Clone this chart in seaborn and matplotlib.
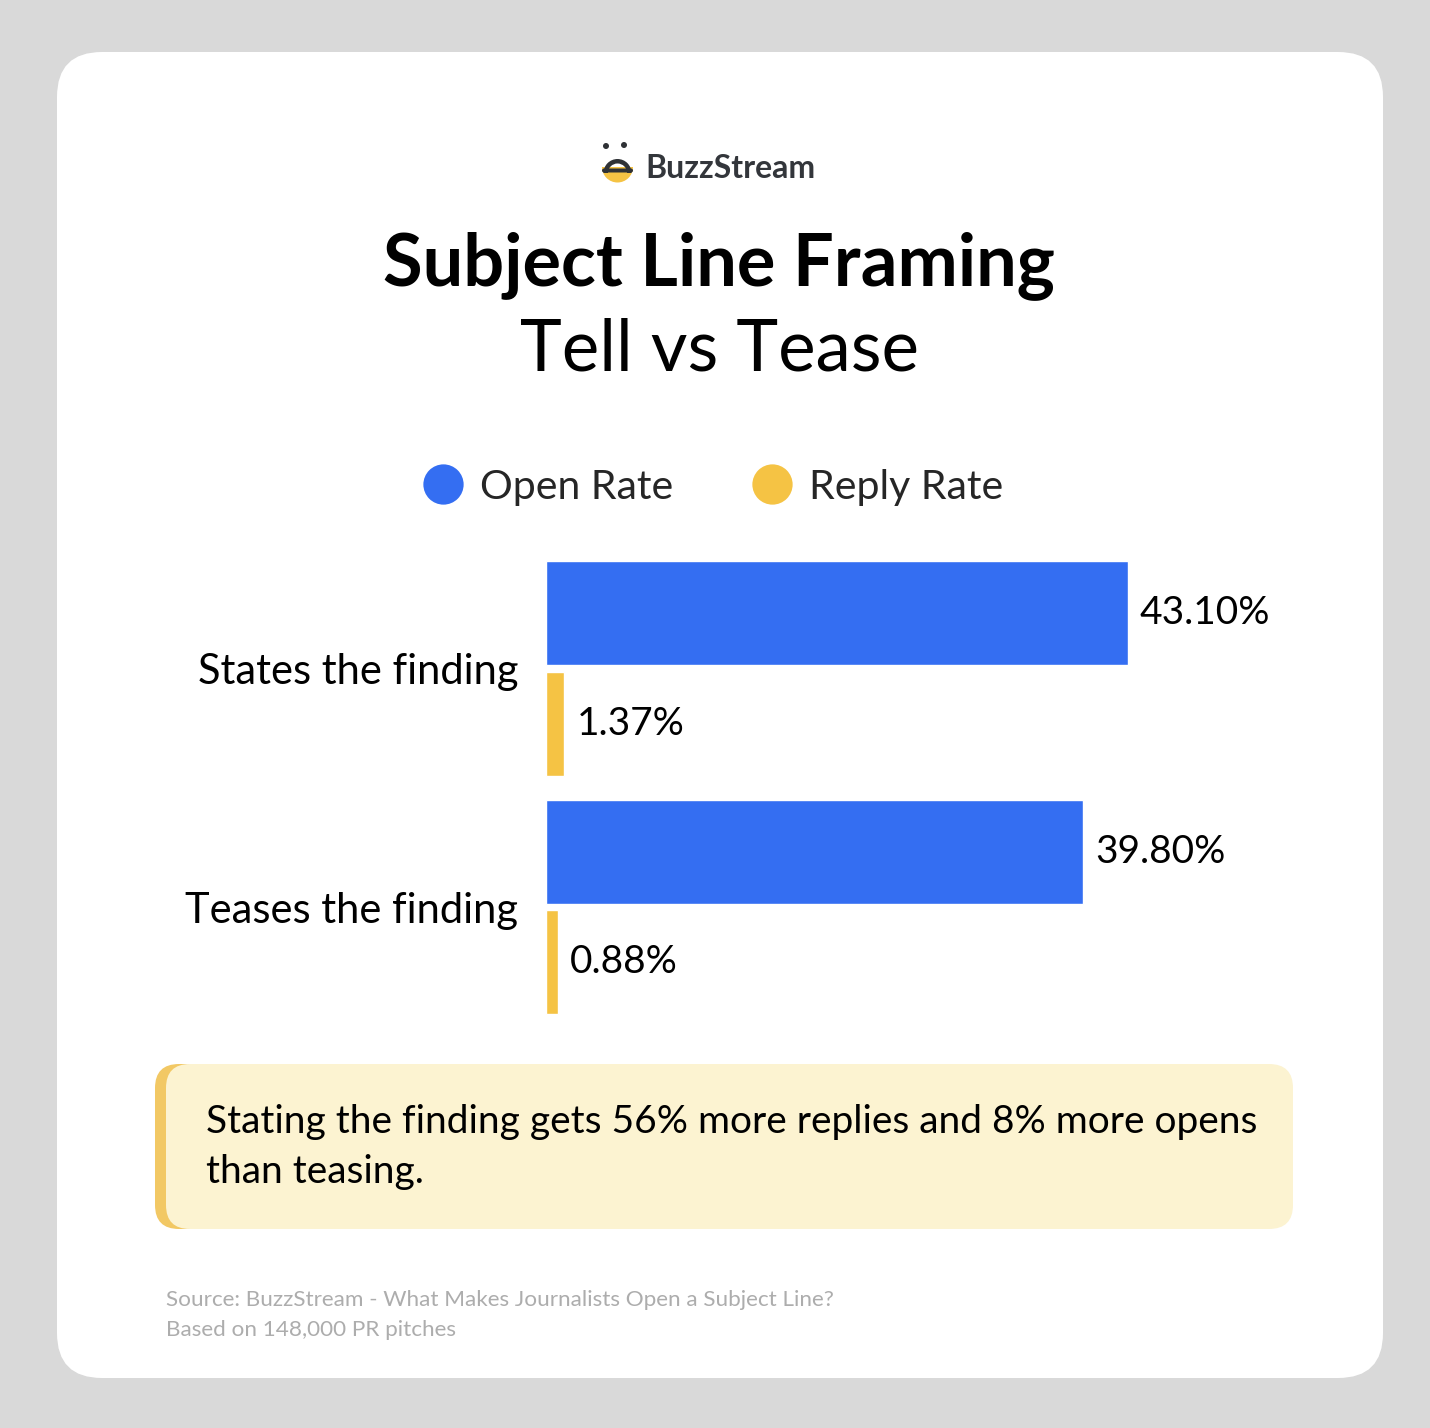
import matplotlib
matplotlib.use("Agg")
import matplotlib.pyplot as plt
import seaborn as sns
import pandas as pd
from matplotlib.patches import FancyBboxPatch, Circle, Wedge
from matplotlib.lines import Line2D

# data
categories = ["States the finding", "Teases the finding"]
open_rate = [43.10, 39.80]
reply_rate = [1.37, 0.88]
series = ["Open Rate", "Reply Rate"]
colors = ["#346EF2", "#F5C344"]

W, H = 1430, 1428
sns.set_theme(style="white")
plt.rcParams["font.family"] = ["Lato", "DejaVu Sans"]

fig = plt.figure(figsize=(W / 100, H / 100), dpi=100)
fig.patch.set_facecolor("#D9D9D9")

# background canvas in pixel coords
bg = fig.add_axes([0, 0, 1, 1])
bg.set_xlim(0, W)
bg.set_ylim(H, 0)
bg.axis("off")
bg.add_patch(FancyBboxPatch((57, 52), 1326, 1326, boxstyle="round,pad=0,rounding_size=45",
                            fc="white", ec="none"))

# logo
dark = "#2F3236"
bg.add_patch(Wedge((617.5, 167), 15.5, 0, 180, fc="#F5C344", ec="none"))
bg.add_patch(FancyBboxPatch((602, 168.5), 31, 4, boxstyle="round,pad=0,rounding_size=2",
                            fc=dark, ec="none"))
bg.add_patch(Wedge((617.5, 173), 14, 180, 360, width=4.5, fc=dark, ec="none"))
bg.add_patch(Circle((606, 146), 3, fc=dark, ec="none"))
bg.add_patch(Circle((624, 145), 3, fc=dark, ec="none"))
bg.text(645, 169, "BuzzStream", fontsize=23, fontweight="bold", color="#33363B",
        ha="left", va="center")

# title
bg.text(719, 266, "Subject Line Framing", fontsize=52, fontweight="bold", color="black",
        ha="center", va="center")
bg.text(720, 350, "Tell vs Tease", fontsize=51, color="black", ha="center", va="center")

# callout
bg.add_patch(FancyBboxPatch((155, 1064), 80, 165, boxstyle="round,pad=0,rounding_size=24",
                            fc="#F2C864", ec="none"))
bg.add_patch(FancyBboxPatch((166, 1064), 1127, 165, boxstyle="round,pad=0,rounding_size=24",
                            fc="#FCF3D1", ec="none"))
bg.text(206, 1122, "Stating the finding gets 56% more replies and 8% more opens",
        fontsize=28, color="black", ha="left", va="center")
bg.text(206, 1172, "than teasing.", fontsize=28, color="black", ha="left", va="center")

# source
bg.text(166, 1300, "Source: BuzzStream - What Makes Journalists Open a Subject Line?",
        fontsize=16.2, color="#ADADAD", ha="left", va="center")
bg.text(166, 1330, "Based on 148,000 PR pitches", fontsize=16.2, color="#ADADAD",
        ha="left", va="center")

# bars
df = pd.DataFrame({
    "category": categories * 2,
    "metric": [series[0]] * len(categories) + [series[1]] * len(categories),
    "value": open_rate + reply_rate,
})

x0, x1, y0, y1 = 546, 1290, 549, 1026.5
ax = fig.add_axes([x0 / W, 1 - y1 / H, (x1 - x0) / W, (y1 - y0) / H])
ax.patch.set_alpha(0)
sns.barplot(data=df, y="category", x="value", hue="metric", palette=colors,
            orient="h", width=0.925, gap=0.059, ax=ax, legend=False,
            saturation=1, errorbar=None)
ax.set_xlim(0, (x1 - x0) / 13.5)
ax.set_ylim(1.5, -0.5)
for c in ax.containers:
    ax.bar_label(c, labels=[f"{v:.2f}%" for v in c.datavalues], padding=8.5,
                 fontsize=28, color="black")
ax.set_xlabel("")
ax.set_ylabel("")
ax.set_xticks([])
ax.tick_params(axis="y", length=0, pad=20, labelsize=30, labelcolor="black")
sns.despine(ax=ax, left=True, bottom=True)

# legend
handles = [Line2D([], [], marker="o", linestyle="", markersize=29, markerfacecolor=c,
                  markeredgecolor="none") for c in colors]
fig.legend(handles, series, loc="center", bbox_to_anchor=(713 / W, 1 - 487 / H),
           ncol=2, frameon=False, fontsize=29.5, handletextpad=0.4, columnspacing=1.9,
           handlelength=1.0)

fig.savefig("out.png", dpi=100, facecolor=fig.get_facecolor())
